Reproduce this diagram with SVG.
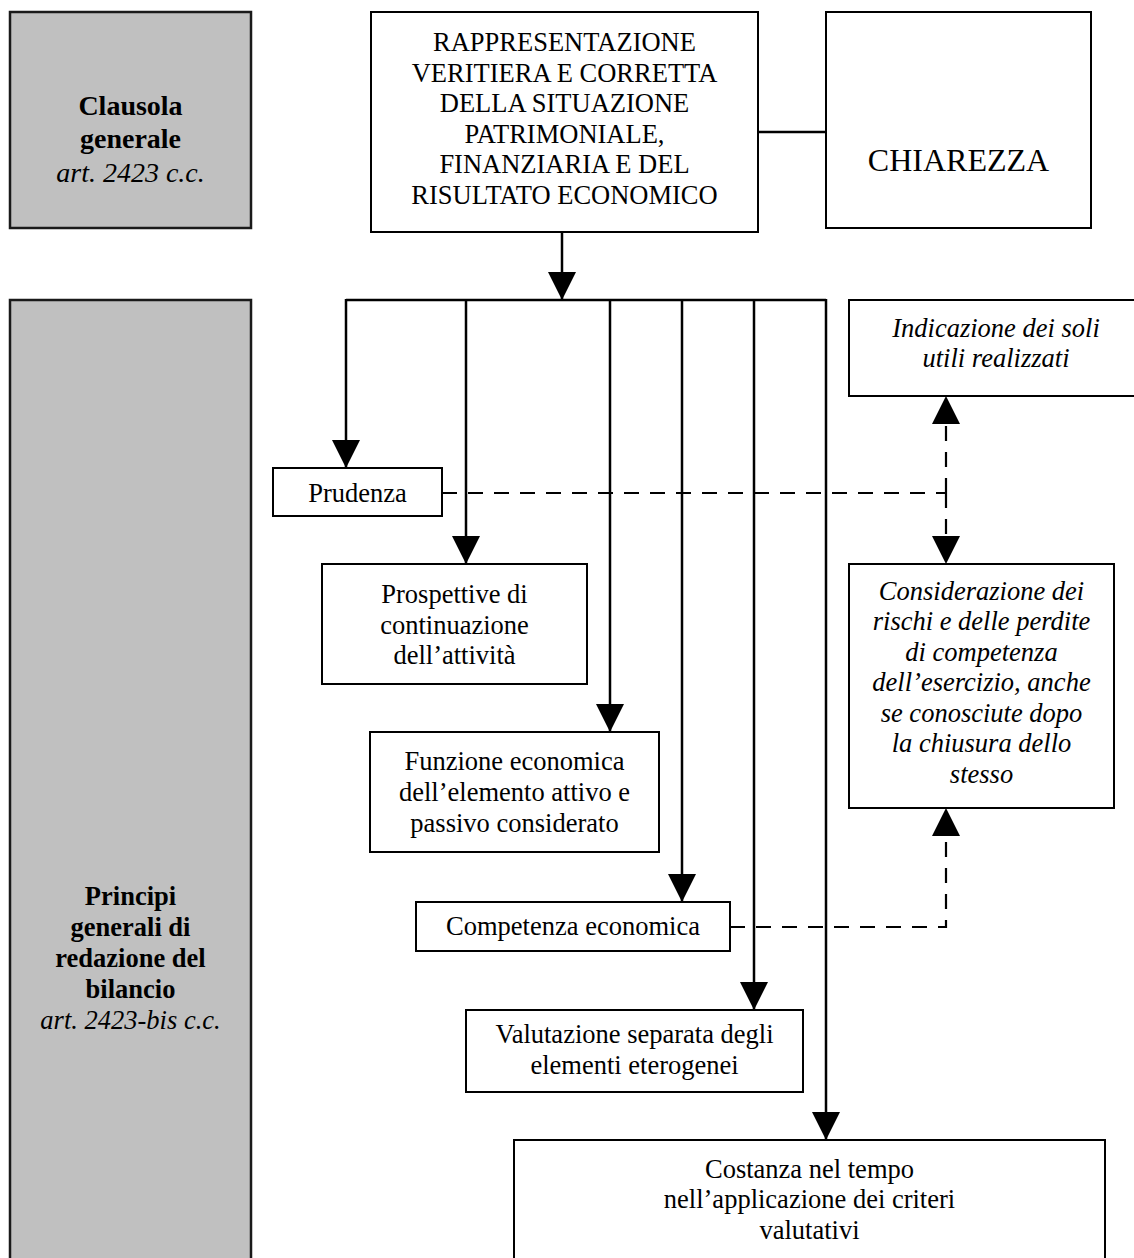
<svg xmlns="http://www.w3.org/2000/svg" width="1134" height="1258" viewBox="0 0 1134 1258">
<style>
.box{fill:#fff;stroke:#000;stroke-width:2}
.gray{fill:#c0c0c0;stroke:#1a1a1a;stroke-width:2.5}
.t{font-family:"Liberation Serif","Times New Roman",serif;font-size:26.5px;fill:#000;text-anchor:middle}
.i{font-style:italic}
.b{font-weight:bold}
.c{fill:none;stroke:#000;stroke-width:2.5}
.d{fill:none;stroke:#000;stroke-width:2.2;stroke-dasharray:15 11}
</style>
<defs>
<marker id="ah" markerUnits="userSpaceOnUse" markerWidth="28" markerHeight="28" refX="28" refY="14" orient="auto" viewBox="0 0 28 28">
<path d="M0,0 L28,14 L0,28 Z" fill="#000"/>
</marker>
</defs>

<g id="clausola">
<rect class="gray" x="10" y="12" width="241" height="216"/>
<text class="t b" x="130.5" y="115" style="font-size:28px">Clausola</text>
<text class="t b" x="130.5" y="148" style="font-size:28px">generale</text>
<text class="t i" x="130.5" y="182" style="font-size:28px">art. 2423 c.c.</text>
</g>

<g id="principi">
<rect class="gray" x="10" y="300" width="241" height="980"/>
<text class="t b" x="130.5" y="905">Principi</text>
<text class="t b" x="130.5" y="936">generali di</text>
<text class="t b" x="130.5" y="967">redazione del</text>
<text class="t b" x="130.5" y="998">bilancio</text>
<text class="t i" x="130.5" y="1029">art. 2423-bis c.c.</text>
</g>

<g id="rappresentazione">
<rect class="box" x="371" y="12" width="387" height="220"/>
<text class="t" x="564.5" y="51">RAPPRESENTAZIONE</text>
<text class="t" x="564.5" y="82">VERITIERA E CORRETTA</text>
<text class="t" x="564.5" y="112">DELLA SITUAZIONE</text>
<text class="t" x="564.5" y="143">PATRIMONIALE,</text>
<text class="t" x="564.5" y="173">FINANZIARIA E DEL</text>
<text class="t" x="564.5" y="204">RISULTATO ECONOMICO</text>
</g>

<g id="chiarezza">
<rect class="box" x="826" y="12" width="265" height="216"/>
<text class="t" x="958.5" y="171" style="font-size:32px">CHIAREZZA</text>
</g>

<g id="indicazione">
<rect class="box" x="849" y="300" width="296" height="96"/>
<text class="t i" x="996" y="337">Indicazione dei soli</text>
<text class="t i" x="996" y="367">utili realizzati</text>
</g>

<g id="prudenza">
<rect class="box" x="273" y="468" width="169" height="48"/>
<text class="t" x="357.5" y="502">Prudenza</text>
</g>

<g id="prospettive">
<rect class="box" x="322" y="564" width="265" height="120"/>
<text class="t" x="454.5" y="603">Prospettive di</text>
<text class="t" x="454.5" y="634">continuazione</text>
<text class="t" x="454.5" y="664">dell’attività</text>
</g>

<g id="considerazione">
<rect class="box" x="849" y="564" width="265" height="244"/>
<text class="t i" x="981.5" y="600">Considerazione dei</text>
<text class="t i" x="981.5" y="630">rischi e delle perdite</text>
<text class="t i" x="981.5" y="661">di competenza</text>
<text class="t i" x="981.5" y="691">dell’esercizio, anche</text>
<text class="t i" x="981.5" y="722">se conosciute dopo</text>
<text class="t i" x="981.5" y="752">la chiusura dello</text>
<text class="t i" x="981.5" y="783">stesso</text>
</g>

<g id="funzione">
<rect class="box" x="370" y="732" width="289" height="120"/>
<text class="t" x="514.5" y="770">Funzione economica</text>
<text class="t" x="514.5" y="801">dell’elemento attivo e</text>
<text class="t" x="514.5" y="832">passivo considerato</text>
</g>

<g id="competenza">
<rect class="box" x="416" y="902" width="314" height="49"/>
<text class="t" x="573" y="935">Competenza economica</text>
</g>

<g id="valutazione">
<rect class="box" x="466" y="1010" width="337" height="82"/>
<text class="t" x="634.5" y="1043">Valutazione separata degli</text>
<text class="t" x="634.5" y="1074">elementi eterogenei</text>
</g>

<g id="costanza">
<rect class="box" x="514" y="1140" width="591" height="140"/>
<text class="t" x="809.5" y="1178">Costanza nel tempo</text>
<text class="t" x="809.5" y="1208">nell’applicazione dei criteri</text>
<text class="t" x="809.5" y="1239">valutativi</text>
</g>

<g id="connectors">
<line class="c" x1="758" y1="132" x2="826" y2="132"/>
<line class="c" x1="562" y1="232" x2="562" y2="300" marker-end="url(#ah)"/>
<line class="c" x1="346" y1="300" x2="826" y2="300"/>
<line class="c" x1="346" y1="299" x2="346" y2="468" marker-end="url(#ah)"/>
<line class="c" x1="466" y1="299" x2="466" y2="564" marker-end="url(#ah)"/>
<line class="c" x1="610" y1="299" x2="610" y2="732" marker-end="url(#ah)"/>
<line class="c" x1="682" y1="299" x2="682" y2="902" marker-end="url(#ah)"/>
<line class="c" x1="754" y1="299" x2="754" y2="1010" marker-end="url(#ah)"/>
<line class="c" x1="826" y1="299" x2="826" y2="1140" marker-end="url(#ah)"/>
<line class="d" x1="442" y1="493" x2="946" y2="493"/>
<line class="d" x1="946" y1="493" x2="946" y2="396" marker-end="url(#ah)"/>
<line class="d" x1="946" y1="493" x2="946" y2="564" marker-end="url(#ah)"/>
<path class="d" d="M730,927 H946 V808" marker-end="url(#ah)"/>
</g>
</svg>
